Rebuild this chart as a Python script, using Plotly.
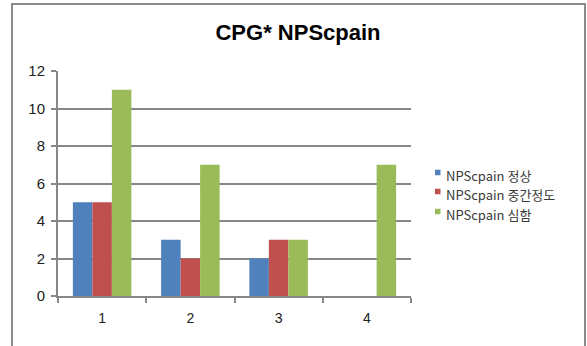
import plotly.graph_objects as go

# Data
categories = ["1", "2", "3", "4"]
series_names = ["NPScpain 정상", "NPScpain 중간정도", "NPScpain 심함"]
normal = [5, 3, 2, 0]
moderate = [5, 2, 3, 0]
severe = [11, 7, 3, 7]
y_ticks = [0, 2, 4, 6, 8, 10, 12]

colors = ["#4F81BD", "#C0504D", "#9BBB59"]
FONT = "Liberation Sans, Arial, Noto Sans CJK KR, sans-serif"
NARROW = "Liberation Sans Narrow, Arial Narrow, Noto Sans CJK KR, sans-serif"
GRID = "#878787"

W, H = 587, 346
L, R, T, B = 58, 176, 71, 50
pw, ph = W - L - R, H - T - B

fig = go.Figure()
for name, vals, c in zip(series_names, [normal, moderate, severe], colors):
    fig.add_trace(go.Bar(x=categories, y=vals, name=name, marker_color=c,
                         marker_line_width=0, showlegend=False))


def px_x(x):
    return (x - L) / pw


def px_y(y):
    return (H - B - y) / ph


# outer chart frame
fig.add_shape(type="rect", xref="paper", yref="paper",
              x0=px_x(12), x1=px_x(585), y0=px_y(356), y1=px_y(4),
              line=dict(color="#8c8c8c", width=2), fillcolor="rgba(0,0,0,0)",
              layer="below")

# legend: small colour squares with series labels
row_y = [172.5, 191.5, 211.5]
for name, c, ry in zip(series_names, colors, row_y):
    fig.add_shape(type="rect", xref="paper", yref="paper",
                  x0=px_x(435), x1=px_x(440.5), y0=px_y(ry + 2.75),
                  y1=px_y(ry - 2.75), line=dict(width=0), fillcolor=c)
    fig.add_annotation(text=name, xref="paper", yref="paper",
                       x=px_x(444), y=px_y(ry + 2.5), xanchor="left",
                       yanchor="middle", showarrow=False,
                       font=dict(family=NARROW, size=13, color="#3a3a3a"))

fig.update_layout(
    width=W, height=H,
    margin=dict(l=L, r=R, t=T, b=B),
    paper_bgcolor="white", plot_bgcolor="white",
    font=dict(family=FONT, size=14, color="#333333"),
    title=dict(text="<b>CPG* NPScpain</b>", x=298 / W, xanchor="center",
               y=1 - 32 / H, yanchor="middle", yref="container",
               font=dict(family=FONT, size=22, color="#000000")),
    barmode="group", bargap=0.337, bargroupgap=0,
    showlegend=False,
    xaxis=dict(type="category", tickson="boundaries", ticks="outside",
               ticklen=5, tickcolor=GRID, tickwidth=1.5, showline=True,
               linecolor=GRID, linewidth=2, showgrid=False,
               ticklabelstandoff=8,
               tickfont=dict(size=14, color="#222222"), fixedrange=True),
    yaxis=dict(range=[0, 12], tickvals=y_ticks, ticks="outside", ticklen=5,
               tickcolor=GRID, tickwidth=1.5, showline=True, linecolor=GRID,
               linewidth=2, showgrid=True, gridcolor=GRID,
               gridwidth=2, zeroline=False, ticklabelstandoff=3,
               tickfont=dict(size=15, color="#222222"), fixedrange=True),
)

fig.write_html("out.html")
